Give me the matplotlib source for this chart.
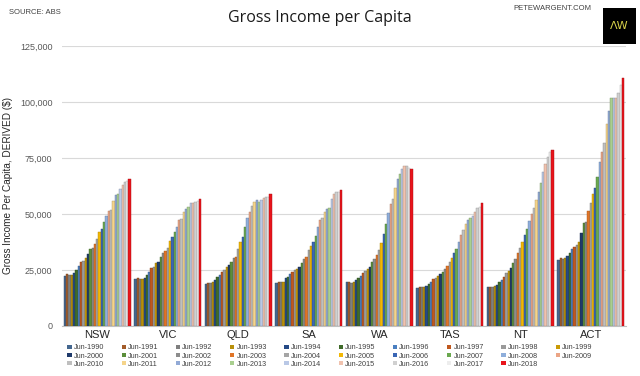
import matplotlib
matplotlib.use('Agg')
import matplotlib.pyplot as plt
from matplotlib.patches import Patch, Rectangle
from matplotlib.ticker import FuncFormatter
import numpy as np

plt.rcParams['font.family'] = ['Liberation Sans', 'DejaVu Sans']

# Data ($ per capita)
states = ['NSW', 'VIC', 'QLD', 'SA', 'WA', 'TAS', 'NT', 'ACT']
years = ['Jun-%d' % y for y in range(1990, 2019)]

nsw = [22500, 23200, 22900, 22900, 23700, 25000, 26900, 28400, 29100, 30300,
       32100, 34300, 35000, 36500, 39000, 41900, 43100, 46300, 49300, 51200,
       51900, 55600, 58500, 58800, 61200, 62900, 64400, 64900, 65700]
vic = [21000, 21300, 21000, 21000, 21400, 22800, 24300, 25700, 26500, 28000,
       28700, 30700, 32400, 33600, 34800, 38100, 39600, 42100, 44300, 47300,
       47800, 50700, 52200, 53300, 54800, 54800, 55500, 55700, 56700]
qld = [18800, 19100, 19300, 19800, 20500, 21700, 22800, 24300, 25000, 26200,
       27200, 28700, 30500, 30700, 34400, 37400, 39900, 44000, 48100, 51000,
       53700, 55200, 56000, 55200, 56300, 57000, 57700, 57700, 58900]
sa = [19300, 19500, 19600, 19800, 21300, 21700, 23200, 24000, 25000, 25400,
      26500, 28000, 29900, 31000, 33900, 35900, 37700, 40300, 44000, 47300,
      48100, 51000, 52200, 52500, 56700, 58900, 59700, 60000, 60700]
wa = [19800, 19500, 19300, 19800, 20500, 21500, 22500, 23500, 24500, 25500,
      26500, 28500, 30000, 31500, 34000, 37000, 41000, 45500, 50500, 54500,
      56500, 61500, 65500, 68000, 70000, 71500, 71500, 70500, 70000]
tas = [17000, 17500, 17300, 17500, 18000, 18800, 19800, 20800, 21500, 22500,
       23200, 24000, 25500, 26800, 28500, 30500, 32500, 34500, 37500, 40500,
       43000, 45500, 47500, 48000, 49000, 51000, 52500, 53000, 55000]
nt = [17200, 17600, 17500, 17900, 18500, 19500, 20500, 22000, 23500, 24500,
      26000, 28000, 30000, 32500, 35000, 37500, 40500, 43500, 47000, 50000,
      52500, 56000, 60000, 64000, 68500, 72500, 75500, 77500, 78700]
act = [29500, 30500, 29900, 30200, 31400, 32700, 34200, 35400, 36200, 37700,
       41400, 45800, 46600, 51300, 55100, 58800, 61800, 66700, 73400, 77800,
       81800, 90000, 96100, 101600, 101900, 101900, 103900, 107600, 110600]

values = np.array([nsw, vic, qld, sa, wa, tas, nt, act])  # state x year

colors = ['#44678F', '#A35C2A', '#7F7F7F', '#B8900A', '#254A86', '#3F6B2A',
          '#4A7FC0', '#C0581E', '#9A9A9A', '#C99A06', '#1F3A6B', '#5B8E3A',
          '#8C8C8C', '#E07427', '#A5A5A5', '#F2B705', '#3A66B5', '#6AA84F',
          '#8EAEDB', '#EBA585', '#BFBFBF', '#F5D48A', '#92AAD6', '#A9CF8F',
          '#B9C8E6', '#F0C2AE', '#D0D0D0', '#EDEDED', '#E8141B']

fig = plt.figure(figsize=(6.4, 3.76), dpi=100)
ax = fig.add_axes([0.097, 0.133, 0.881, 0.745])

n_years = len(years)
group_w = 0.95
bar_w = group_w / n_years
x = np.arange(len(states))

for i, yr in enumerate(years):
    xs = x - group_w / 2 + bar_w * (i + 0.5)
    c = np.array(matplotlib.colors.to_rgb(colors[i]))
    ax.bar(xs, values[:, i], width=bar_w, color=colors[i],
           edgecolor=tuple(c * 0.72), linewidth=0.3, label=yr, zorder=3)

ax.set_xlim(-0.5, len(states) - 0.5)
ax.set_ylim(0, 125000)
ax.set_yticks(np.arange(0, 125001, 25000))
ax.yaxis.set_major_formatter(FuncFormatter(lambda v, p: '{:,.0f}'.format(v)))
ax.grid(axis='y', color='#D9D9D9', linewidth=0.8, zorder=0)
ax.set_xticks(x)
ax.set_xticklabels(states, fontsize=8, color='#262626')
ax.tick_params(axis='y', length=0, labelsize=6.5, labelcolor='#595959', pad=7)
ax.tick_params(axis='x', length=0, pad=3)
for s in ['top', 'right', 'left']:
    ax.spines[s].set_visible(False)
ax.spines['bottom'].set_color('#BFBFBF')
ax.set_ylabel('Gross Income Per Capita, DERIVED ($)', fontsize=7.2,
              color='#262626', labelpad=5)

# legend: rows of ten years, matplotlib fills column by column
handles = [Patch(facecolor=colors[i], edgecolor='none') for i in range(n_years)]
order = []
for col in range(10):
    for row in range(3):
        k = row * 10 + col
        if k < n_years:
            order.append(k)
fig.legend([handles[k] for k in order], [years[k] for k in order],
           ncol=10, loc='lower left', bbox_to_anchor=(0.095, 0.005),
           frameon=False, fontsize=5.2, handlelength=0.6, handleheight=0.6,
           handletextpad=0.3, columnspacing=2.4, labelspacing=0.15,
           labelcolor='#404040')

fig.text(0.5, 0.952, 'Gross Income per Capita', ha='center', va='center',
         fontsize=11.5, family='Open Sans', color='#1A1A1A')
fig.text(0.014, 0.966, 'SOURCE: ABS', ha='left', va='center', fontsize=5.5,
         color='#404040')
fig.text(0.924, 0.977, 'PETEWARGENT.COM', ha='right', va='center',
         fontsize=5.5, color='#404040')

# AW logo box
fig.patches.append(Rectangle((0.942, 0.882), 0.052, 0.097, transform=fig.transFigure,
                             facecolor='black', edgecolor='none'))
fig.text(0.968, 0.93, '\u039bW', ha='center', va='center', fontsize=8,
         color='#D8D24A', family='DejaVu Sans')

fig.savefig('out.png', dpi=100, facecolor='white')
